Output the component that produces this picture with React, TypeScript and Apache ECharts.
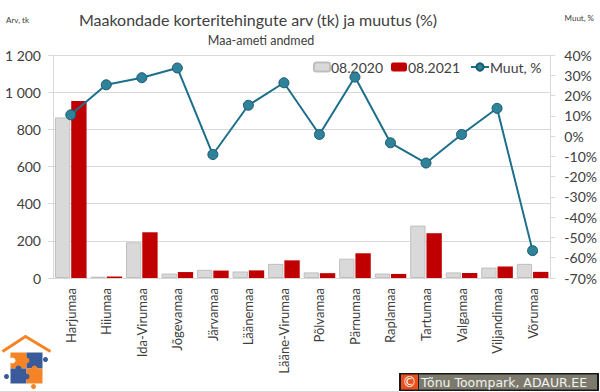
import React, { useEffect, useRef } from "react";
import * as echarts from "echarts";

const categories = [
  "Harjumaa", "Hiiumaa", "Ida-Virumaa", "Jõgevamaa", "Järvamaa", "Läänemaa",
  "Lääne-Virumaa", "Põlvamaa", "Pärnumaa", "Raplamaa", "Tartumaa", "Valgamaa",
  "Viljandimaa", "Võrumaa",
];
const values2020 = [864, 7, 192, 24, 44, 35, 76, 30, 104, 24, 282, 30, 56, 76];
const values2021 = [952, 8, 246, 32, 40, 41, 95, 26, 133, 22, 241, 27, 62, 33];
const changePct = [10.5, 25.3, 28.8, 33.6, -9.1, 15.2, 26.3, 0.8, 29.1, -3.3, -13.3, 0.8, 13.7, -56.5];

const leftTicks = { min: 0, max: 1200, interval: 200 };
const rightTicks = { min: -70, max: 40, interval: 10 };

const FONT = "Lato, 'Open Sans', sans-serif";
const TXT = "#404040";

export default function App() {
  const ref = useRef<HTMLDivElement>(null);
  useEffect(() => {
    if (!ref.current) return;
    const chart = echarts.init(ref.current, undefined, { renderer: "svg" });
    const orange = "#F58426";
    const blue = "#3B5A99";
    const legendBase = {
      top: 60,
      padding: 0,
      itemWidth: 16,
      itemHeight: 9,
      textStyle: { fontSize: 14, color: TXT, fontFamily: FONT, padding: [0, 0, 0, -4] },
    };
    chart.setOption({
      animation: false,
      backgroundColor: "#ffffff",
      textStyle: { fontFamily: FONT, color: TXT },
      grid: { left: 53, right: 49, top: 55, bottom: 114 },
      legend: [
        { ...legendBase, left: 313, data: ["08.2020"] },
        { ...legendBase, left: 391, data: ["08.2021"] },
        { ...legendBase, left: 470, itemWidth: 18, data: ["Muut, %"] },
      ],
      xAxis: {
        type: "category",
        data: categories,
        axisLine: { lineStyle: { color: "#d9d9d9" } },
        axisTick: { show: false },
        axisLabel: { rotate: 90, fontSize: 13, color: TXT, margin: 10, fontFamily: FONT },
      },
      yAxis: [
        {
          type: "value",
          min: leftTicks.min,
          max: leftTicks.max,
          interval: leftTicks.interval,
          axisLine: { show: true, lineStyle: { color: "#d9d9d9" } },
          axisTick: { show: true, length: 5, lineStyle: { color: "#d9d9d9" } },
          splitLine: { lineStyle: { color: "#d9d9d9" } },
          axisLabel: {
            fontSize: 14,
            color: TXT,
            margin: 12,
            fontFamily: FONT,
            formatter: (v: number) => String(v).replace(/\B(?=(\d{3})+(?!\d))/g, " "),
          },
        },
        {
          type: "value",
          min: rightTicks.min,
          max: rightTicks.max,
          interval: rightTicks.interval,
          axisLine: { show: true, lineStyle: { color: "#d9d9d9" } },
          axisTick: { show: true, length: 5, lineStyle: { color: "#d9d9d9" } },
          splitLine: { show: false },
          axisLabel: {
            fontSize: 14,
            color: TXT,
            margin: 14,
            fontFamily: FONT,
            formatter: (v: number) => `${v}%`,
          },
        },
      ],
      series: [
        {
          name: "08.2020",
          type: "bar",
          data: values2020,
          barGap: "6%",
          barCategoryGap: "11%",
          itemStyle: { color: "#d9d9d9", borderColor: "#bfbfbf", borderWidth: 1 },
        },
        {
          name: "08.2021",
          type: "bar",
          data: values2021,
          itemStyle: { color: "#c00000" },
        },
        {
          name: "Muut, %",
          type: "line",
          yAxisIndex: 1,
          data: changePct,
          symbol: "circle",
          symbolSize: 10,
          lineStyle: { color: "#1C6F8B", width: 2 },
          itemStyle: { color: "#2E8299", borderColor: "#1B5B70", borderWidth: 1 },
          z: 5,
        },
      ],
      graphic: [
        {
          type: "text",
          x: 258,
          y: 19,
          style: {
            text: "Maakondade korteritehingute arv (tk) ja muutus (%)",
            fontSize: 16,
            fontFamily: FONT,
            fill: TXT,
            align: "center",
            verticalAlign: "middle",
          },
        },
        {
          type: "text",
          x: 261,
          y: 40,
          style: { text: "Maa-ameti andmed", fontSize: 12.5, fontFamily: FONT, fill: TXT, align: "center", verticalAlign: "middle" },
        },
        {
          type: "text",
          left: 6,
          top: 16,
          style: { text: "Arv, tk", fontSize: 8, fontFamily: FONT, fill: TXT },
        },
        {
          type: "text",
          right: 6,
          top: 14,
          style: { text: "Muut, %", fontSize: 8, fontFamily: FONT, fill: TXT },
        },
        // logo
        {
          type: "group",
          left: 0,
          top: 334,
          children: [
            { type: "polyline", shape: { points: [[2, 17], [25, 2], [50, 17]] }, style: { stroke: orange, lineWidth: 3, fill: "none" } },
            { type: "rect", shape: { x: 10, y: 18, width: 16, height: 16 }, style: { fill: orange } },
            { type: "rect", shape: { x: 26, y: 18, width: 16, height: 16 }, style: { fill: blue } },
            { type: "rect", shape: { x: 10, y: 34, width: 16, height: 15 }, style: { fill: blue } },
            { type: "rect", shape: { x: 26, y: 34, width: 16, height: 15 }, style: { fill: orange } },
            { type: "circle", shape: { cx: 12, cy: 26, r: 3 }, style: { fill: "#ffffff" } },
            { type: "circle", shape: { cx: 45, cy: 25, r: 2.5 }, style: { fill: blue } },
            { type: "circle", shape: { cx: 6, cy: 42, r: 2.5 }, style: { fill: blue } },
            { type: "circle", shape: { cx: 33, cy: 52, r: 2.5 }, style: { fill: orange } },
            { type: "circle", shape: { cx: 26, cy: 26, r: 3 }, style: { fill: orange } },
            { type: "circle", shape: { cx: 18, cy: 34, r: 3 }, style: { fill: blue } },
            { type: "circle", shape: { cx: 34, cy: 34, r: 3 }, style: { fill: orange } },
            { type: "circle", shape: { cx: 26, cy: 42, r: 3 }, style: { fill: blue } },
          ],
        },
        // copyright
        {
          type: "rect",
          shape: { x: 399, y: 373, width: 200, height: 18 },
          style: { fill: "#1a1a1a" },
        },
        {
          type: "rect",
          shape: { x: 401, y: 374.5, width: 17, height: 15 },
          style: { fill: "#E8501E" },
        },
        {
          type: "text",
          x: 409.5,
          y: 382,
          style: { text: "©", fontSize: 14, fontFamily: "DejaVu Sans", fill: "#ffffff", align: "center", verticalAlign: "middle" },
        },
        {
          type: "rect",
          shape: { x: 419, y: 374.5, width: 178, height: 15 },
          style: { fill: "#7B7A6C" },
        },
        {
          type: "text",
          x: 421,
          y: 382.5,
          style: { text: "Tõnu Toompark, ADAUR.EE", fontSize: 12.5, fontFamily: "DejaVu Sans", fill: "#f2f2f2", verticalAlign: "middle" },
        },
        {
          type: "line",
          shape: { x1: 0, y1: 391.5, x2: 399, y2: 391.5 },
          style: { stroke: "#d9d9d9", lineWidth: 1 },
        },
      ],
    });
    return () => chart.dispose();
  }, []);
  return (
    <div
      ref={ref}
      style={{ position: "absolute", left: 0, top: 0, width: 600, height: 392 }}
    />
  );
}
